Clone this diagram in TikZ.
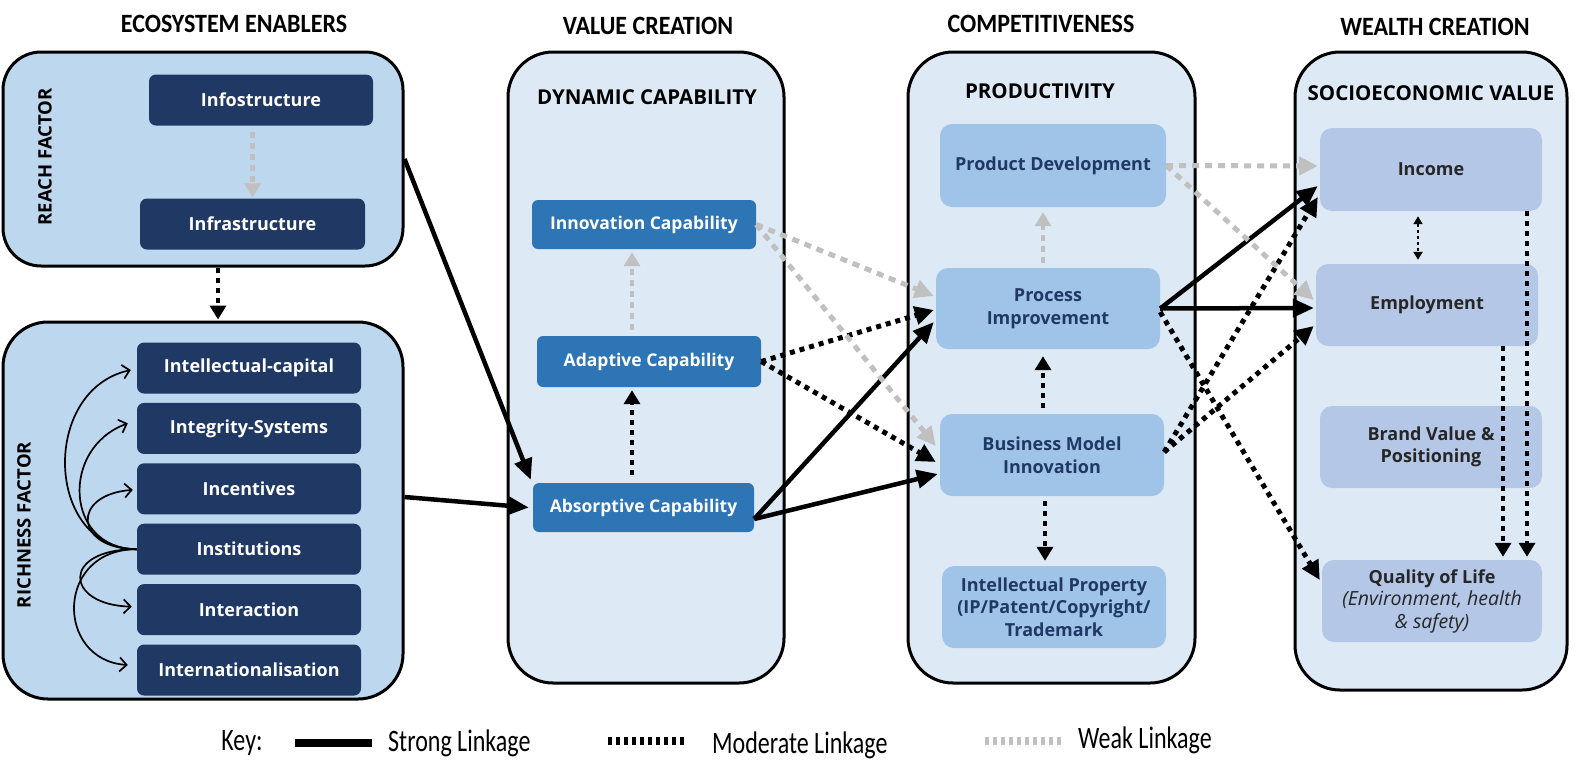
\documentclass[tikz,border=0pt]{standalone}
\usepackage{graphicx}
\usepackage{fontspec}
\setmainfont{Open Sans}
\newfontfamily\keyfont{Carlito}
\usetikzlibrary{arrows.meta}
\definecolor{ecofill}{RGB}{189,215,238}
\definecolor{colfill}{RGB}{221,234,246}
\definecolor{navy}{RGB}{31,56,100}
\definecolor{valblue}{RGB}{46,117,182}
\definecolor{compbox}{RGB}{160,196,232}
\definecolor{wealthbox}{RGB}{180,199,231}
\definecolor{weakgray}{RGB}{192,192,192}
\definecolor{textnavy}{RGB}{31,56,100}
\tikzset{
  colbox/.style={draw=black, line width=3pt, rounded corners=40pt, inner sep=0pt},
  navybox/.style={fill=navy, text=white, rounded corners=7pt, inner sep=0pt,
     minimum width=224pt, minimum height=51pt, font=\bfseries\fontsize{18}{21}\selectfont},
  valbox/.style={fill=valblue, text=white, rounded corners=6pt, inner sep=0pt,
     minimum width=222pt, minimum height=49pt, font=\bfseries\fontsize{17.5}{20}\selectfont},
  cbox/.style={fill=compbox, text=textnavy, rounded corners=12pt, inner sep=0pt, align=center,
     minimum width=224pt, minimum height=82pt, font=\bfseries\fontsize{18}{22.5}\selectfont},
  wbox/.style={fill=wealthbox, text=black!85, rounded corners=12pt, inner sep=0pt, align=center,
     minimum width=222pt, minimum height=82pt, font=\bfseries\fontsize{18}{22.5}\selectfont},
  heading/.style={font=\keyfont\bfseries\fontsize{24}{28}\selectfont, inner sep=0pt},
  subhead/.style={font=\bfseries\fontsize{20.5}{24}\selectfont, inner sep=0pt},
  sidelbl/.style={font=\bfseries\fontsize{18.5}{22}\selectfont, rotate=90, inner sep=0pt},
  keytext/.style={font=\keyfont\fontsize{24}{28}\selectfont, inner sep=0pt},
  strong/.style={line width=4.5pt, -{Triangle[length=21pt,width=18pt]}},
  moderate/.style={line width=5pt, dash pattern=on 5pt off 5pt, -{Triangle[length=19pt,width=18pt]}},
  weak/.style={draw=weakgray, line width=5pt, dash pattern=on 7pt off 6pt, -{Triangle[length=19pt,width=18pt]}},
  modshort/.style={line width=4.5pt, dash pattern=on 5pt off 5pt, -{Triangle[length=14pt,width=16pt]}},
  weakshort/.style={draw=weakgray, line width=4.5pt, dash pattern=on 6pt off 5pt, -{Triangle[length=14pt,width=16pt]}},
  thinarrow/.style={line width=1.7pt, -{Straight Barb[length=7pt,width=14pt,line width=1.7pt]}},
}
\newcommand{\vstretch}[1]{\scalebox{1}[1.3]{#1}}
\newcommand{\hvstretch}[1]{\scalebox{1}[1.1]{#1}}
\begin{document}
\begin{tikzpicture}[x=1pt,y=-1pt]
\useasboundingbox (0,0) rectangle (1581,780);

% headings
\node[heading] (h1) at (234,24) {\hvstretch{ECOSYSTEM ENABLERS}};
\node[heading] (h2) at (648,26) {\hvstretch{VALUE CREATION}};
\node[heading] (h3) at (1041,24) {\hvstretch{COMPETITIVENESS}};
\node[heading] (h4) at (1435,27) {\hvstretch{WEALTH CREATION}};

% column boxes
\node[colbox, fill=ecofill, minimum width=400pt, minimum height=214pt, rounded corners=38pt] (reach) at (203,159) {};
\node[colbox, fill=ecofill, minimum width=400pt, minimum height=377pt, rounded corners=45pt] (rich) at (203,510.5) {};
\node[colbox, fill=colfill, minimum width=276pt, minimum height=631pt, rounded corners=45pt] (valcol) at (646,367.5) {};
\node[colbox, fill=colfill, minimum width=287pt, minimum height=631pt, rounded corners=45pt] (compcol) at (1051.5,367.5) {};
\node[colbox, fill=colfill, minimum width=272pt, minimum height=638pt, rounded corners=45pt] (wealthcol) at (1431,371) {};

% side labels
\node[sidelbl] (reachlbl) at (45,157) {REACH FACTOR};
\node[sidelbl] (richlbl) at (24,525) {RICHNESS FACTOR};

% sub headings
\node[subhead] (dyn) at (647,97) {DYNAMIC CAPABILITY};
\node[subhead] (prodv) at (1040,91) {PRODUCTIVITY};
\node[subhead] (socio) at (1431,93) {SOCIOECONOMIC VALUE};

% reach factor
\node[navybox] (info) at (261,100) {Infostructure};
\node[navybox, minimum width=225pt] (infra) at (252.5,224) {Infrastructure};

% richness factor
\node[navybox] (intel) at (249,368) {Intellectual-capital};
\node[navybox] (integ) at (249,428.4) {Integrity-Systems};
\node[navybox] (incent) at (249,488.8) {Incentives};
\node[navybox] (inst) at (249,549.2) {Institutions};
\node[navybox] (inter) at (249,609.6) {Interaction};
\node[navybox] (intl) at (249,670) {Internationalisation};

% value creation
\node[valbox, minimum width=224pt] (innov) at (644,224.5) {Innovation Capability};
\node[valbox, minimum width=224pt, minimum height=51pt] (adapt) at (649,361.5) {Adaptive Capability};
\node[valbox, minimum width=221pt] (absorb) at (643.5,507.5) {Absorptive Capability};

% competitiveness
\node[cbox, minimum width=226pt, minimum height=83pt] (product) at (1053,165.5) {Product Development};
\node[cbox, minimum height=81pt] (proc) at (1048,308.5) {Process\\Improvement};
\node[cbox] (bmi) at (1052,455) {Business Model\\Innovation};
\node[cbox] (ip) at (1054,607) {Intellectual Property\\(IP/Patent/Copyright/\\Trademark};

% wealth creation
\node[wbox, minimum height=83pt] (income) at (1431,169.5) {Income};
\node[wbox] (employ) at (1427,305) {Employment};
\node[wbox] (brand) at (1431,447) {Brand Value \&\\Positioning};
\node[wbox, minimum width=220pt] (qol) at (1432,601) {Quality of Life\\{\mdseries\itshape\fontsize{19.5}{22.5}\selectfont (Environment, health}\\{\mdseries\itshape\fontsize{19.5}{22.5}\selectfont \& safety)}};

% intra-column arrows
\draw[weakshort] ([yshift=-6pt]info.south -| infra.north) -- ([yshift=1pt]infra.north);
\draw[modshort] ([xshift=15pt]reach.south) -- ([xshift=15pt,yshift=1pt]rich.north);
\coordinate (aN) at ([xshift=-17pt,yshift=6pt]adapt.north);
\draw[weakshort] (aN) -- ([yshift=-3pt]aN |- innov.south);
\coordinate (bN) at ([xshift=-11.5pt,yshift=8pt]absorb.north);
\draw[modshort] (bN) -- ([yshift=-3pt]bN |- adapt.south);
\coordinate (pN) at ([xshift=-5pt,yshift=5pt]proc.north);
\draw[weakshort] (pN) -- ([yshift=-5pt]pN |- product.south);
\coordinate (mN) at ([xshift=-9pt,yshift=6pt]bmi.north);
\draw[modshort] (mN) -- ([yshift=-7pt]mN |- proc.south);
\coordinate (mS) at ([xshift=-7pt,yshift=-5pt]bmi.south);
\draw[modshort] (mS) -- ([yshift=5pt]mS |- ip.north);
\coordinate (iS) at ([xshift=-13pt,yshift=-5pt]income.south);
\draw[line width=2.5pt, dash pattern=on 3pt off 3pt, {Triangle[length=8pt,width=9pt]}-{Triangle[length=8pt,width=9pt]}] (iS) -- ([yshift=4pt]iS |- employ.north);
\coordinate (eS) at ([xshift=76pt]employ.south);
\draw[modshort] (eS) -- ([yshift=3pt]eS |- qol.north);
\coordinate (iS2) at ([xshift=96pt]income.south);
\draw[modshort] (iS2) -- ([yshift=3pt]iS2 |- qol.north);

% richness curved arrows
\draw[thinarrow] (inst.west) .. controls (45,549) and (40,390) .. ([xshift=-6pt,yshift=-2pt]intel.west);
\draw[thinarrow] (inst.west) .. controls (65,549) and (60,448) .. ([xshift=-9pt,yshift=5pt]integ.west);
\draw[thinarrow] (inst.west) .. controls (75,549) and (70,495) .. ([xshift=-4pt,yshift=-1pt]incent.west);
\draw[thinarrow] (inst.west) .. controls (60,549) and (65,605) .. ([xshift=-5pt,yshift=3pt]inter.west);
\draw[thinarrow] (inst.west) .. controls (55,549) and (55,660) .. ([xshift=-9pt,yshift=5pt]intl.west);

% strong linkages
\draw[strong] (reach.east) -- ([xshift=-2pt,yshift=3pt]absorb.north west);
\draw[strong] ([yshift=13.5pt]rich.east) -- ([xshift=-4pt]absorb.west);
\draw[strong] ([yshift=-11.5pt]absorb.east) -- ([xshift=-2pt,yshift=-13.5pt]proc.west);
\draw[strong] ([yshift=-11.5pt]absorb.east) -- ([xshift=-2pt,yshift=-19pt]bmi.west);
\draw[strong] (proc.east) -- ([xshift=-2pt,yshift=-16.5pt]income.west);
\draw[strong] (proc.east) -- ([xshift=-2pt,yshift=-3pt]employ.west);

% moderate linkages
\draw[moderate] (adapt.east) -- ([xshift=-2pt,yshift=-1.5pt]proc.west);
\draw[moderate] (adapt.east) -- ([xshift=-4pt,yshift=-7pt]bmi.west);
\draw[moderate] ([yshift=3pt]bmi.east) -- ([xshift=-2pt,yshift=-27.5pt]income.west);
\draw[moderate] ([yshift=3pt]bmi.east) -- ([xshift=-2pt,yshift=-21pt]employ.west);
\draw[moderate] ([yshift=-3.5pt]proc.east) -- ([xshift=-2pt,yshift=21pt]qol.west);

% weak linkages
\draw[weak] (innov.east) -- ([xshift=-2pt,yshift=12.5pt]proc.west);
\draw[weak] (innov.east) -- ([xshift=-4pt,yshift=9pt]bmi.west);
\draw[weak] (product.east) -- ([xshift=-2pt,yshift=3.5pt]income.west);
\draw[weak] (product.east) -- ([xshift=-2pt,yshift=5pt]employ.west);

% key
\node[keytext] (keylbl) at (242,743) {\vstretch{Key:}};
\coordinate (ks1) at (295,743); \coordinate (ks2) at (372,743);
\draw[line width=8pt] (ks1) -- (ks2);
\node[keytext, anchor=west] (kstrong) at (388,743) {\vstretch{Strong Linkage}};
\coordinate (km1) at (608,741); \coordinate (km2) at (686,741);
\draw[line width=8pt, dash pattern=on 4pt off 4pt] (km1) -- (km2);
\node[keytext, anchor=west] (kmod) at (712,745) {\vstretch{Moderate Linkage}};
\coordinate (kw1) at (985,741); \coordinate (kw2) at (1062,741);
\draw[weakgray, line width=8pt, dash pattern=on 4pt off 4pt] (kw1) -- (kw2);
\node[keytext, anchor=west] (kweak) at (1078,740) {\vstretch{Weak Linkage}};
\end{tikzpicture}
\end{document}
